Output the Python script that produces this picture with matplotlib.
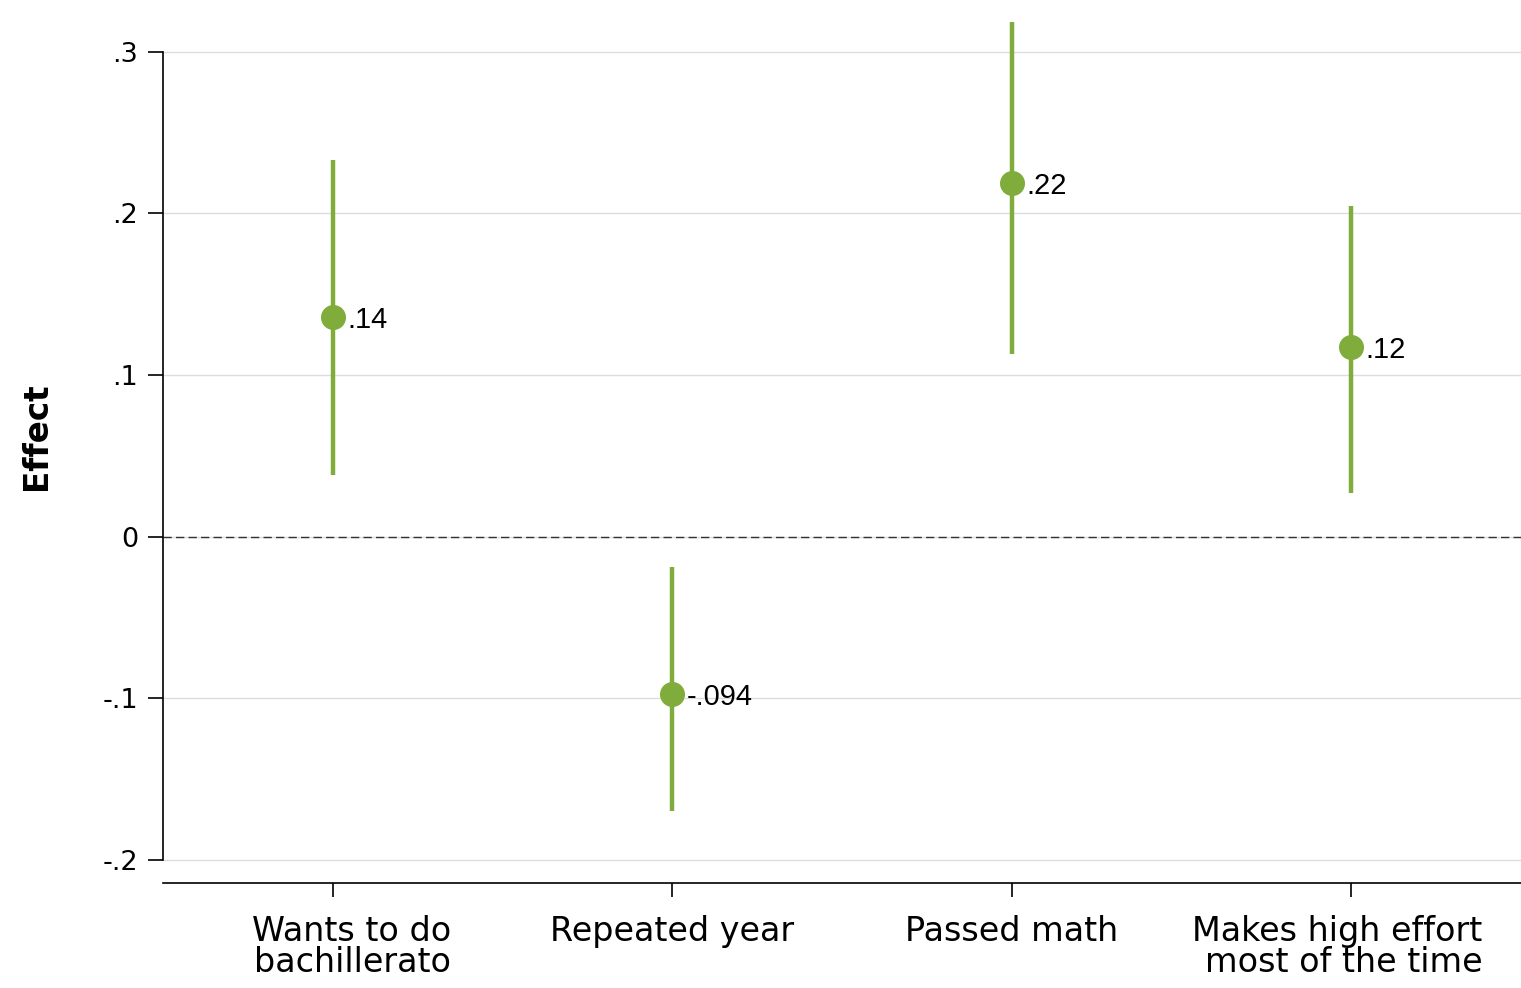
import matplotlib
matplotlib.use("Agg")
import matplotlib.pyplot as plt
import matplotlib.transforms as mtransforms
import numpy as np

categories = ["Wants to do\nbachillerato", "Repeated year", "Passed math",
              "Makes high effort\nmost of the time"]
effects = [0.136, -0.097, 0.219, 0.1175]
ci_low = [0.038, -0.1695, 0.113, 0.027]
ci_high = [0.233, -0.0186, 0.3185, 0.2047]
value_labels = [".14", "-.094", ".22", ".12"]
yticks = [-0.2, -0.1, 0.0, 0.1, 0.2, 0.3]
ytick_labels = ["-.2", "-.1", "0", ".1", ".2", ".3"]

GREEN = "#7FAC3B"
AXFONT = "DejaVu Sans"

fig = plt.figure(figsize=(15.21, 9.88), dpi=100)
ax = fig.add_axes([163/1521, (988-883)/988, 1 - 163/1521, 883/988])

x = np.arange(1, len(categories) + 1)
ax.vlines(x, ci_low, ci_high, color=GREEN, lw=3.2, zorder=3)
ax.plot(x, effects, "o", color=GREEN, ms=17, zorder=4)
for xi, yi, lab in zip(x, effects, value_labels):
    ax.annotate(lab, (xi, yi), xytext=(10.5, -2.5), textcoords="offset points",
                va="center", ha="left", fontsize=21,
                family="Liberation Sans", color="black")

ax.axhline(0, color="#333333", lw=1.0, ls=(0, (6, 3)), zorder=2)

ax.set_xlim(0.5, 4.5)
ax.set_ylim(-0.2142, 0.332)
ax.set_yticks(yticks)
ax.set_yticklabels(ytick_labels, family=AXFONT, fontsize=19.5)
ax.set_xticks(x)
ax.set_xticklabels(categories, family=AXFONT, fontsize=24, ha="center",
                   multialignment="right", linespacing=0.92)
ax.tick_params(axis="y", length=11, width=1.2, pad=7, color="black")
ax.tick_params(axis="x", length=10, width=1.2, pad=13, color="black")

# small horizontal shifts of the multi-line category labels (layout only)
label_shift_px = [19, 0, 0, -14]
for lbl, dx in zip(ax.get_xticklabels(), label_shift_px):
    lbl.set_transform(lbl.get_transform() +
                      mtransforms.ScaledTranslation(dx / 100, 0, fig.dpi_scale_trans))

ax.yaxis.grid(True, color="#DDDDDD", lw=1.0)
ax.set_axisbelow(True)

for s in ["top", "right"]:
    ax.spines[s].set_visible(False)
ax.spines["left"].set_bounds(-0.2, 0.3)
ax.spines["left"].set_linewidth(1.2)
ax.spines["bottom"].set_linewidth(1.2)

ax.set_ylabel("Effect", family=AXFONT, fontsize=23.5, fontweight="bold")
ax.yaxis.set_label_coords(-0.081, 0.506)

fig.savefig("out.png", dpi=100)
